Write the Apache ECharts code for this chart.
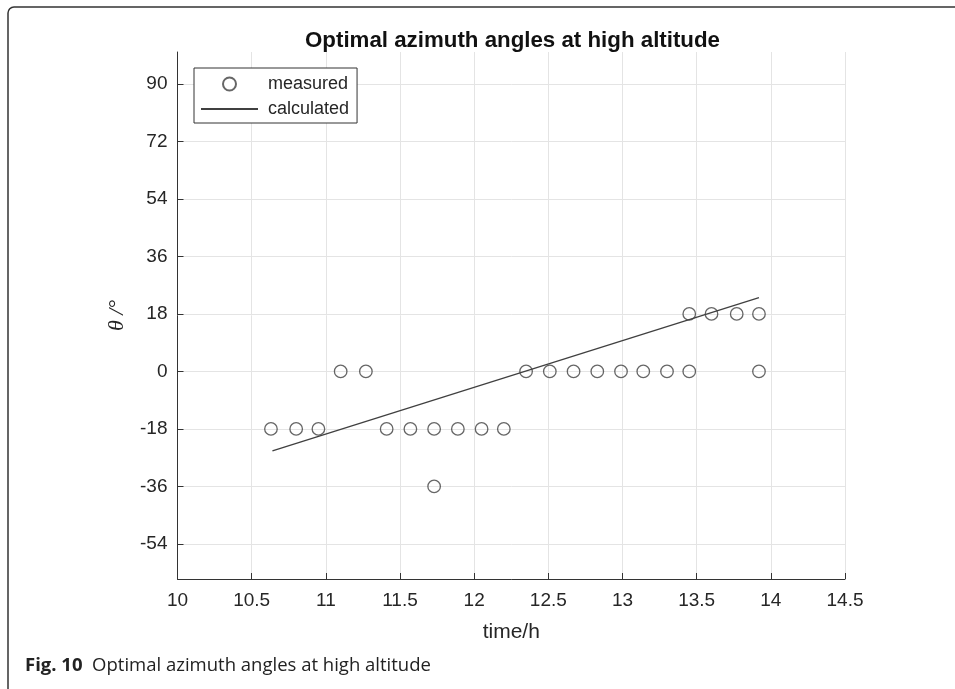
<!DOCTYPE html>
<html>
<head>
<meta charset="utf-8">
<script src="https://cdn.jsdelivr.net/npm/echarts@6/dist/echarts.min.js"></script>
<style>
html,body{margin:0;padding:0;background:#fff;}
#chart{width:955px;height:689px;}
</style>
</head>
<body>
<div id="chart"></div>
<script>
// measured optimal azimuth angles
const measuredTime = [10.63, 10.80, 10.95, 11.10, 11.27, 11.41, 11.57, 11.73, 11.73, 11.89, 12.05, 12.20,
  12.35, 12.51, 12.67, 12.83, 12.99, 13.14, 13.30, 13.45, 13.45, 13.60, 13.77, 13.92, 13.92];
const measuredAngle = [-18, -18, -18, 0, 0, -18, -18, -18, -36, -18, -18, -18,
  0, 0, 0, 0, 0, 0, 0, 0, 18, 18, 18, 18, 0];
// calculated line (end points)
const calcTime = [10.64, 13.92];
const calcAngle = [-24.9, 23.1];
// axis ticks
const yTickValues = [-54, -36, -18, 0, 18, 36, 54, 72, 90];

const chart = echarts.init(document.getElementById('chart'), null, {renderer: 'canvas'});
const axisColor = '#333';
const textColor = '#262626';
const font = 'Liberation Sans, Arial, sans-serif';

const option = {
  backgroundColor: '#fff',
  animation: false,
  title: {
    text: 'Optimal azimuth angles at high altitude',
    left: 300, top: 25,
    textStyle: {fontSize: 22.3, fontWeight: 'bold', color: '#111', fontFamily: font}
  },
  legend: {
    orient: 'vertical',
    left: 194, top: 68,
    padding: [7, 8, 5, 6],
    itemGap: 7,
    itemWidth: 57, itemHeight: 13,
    borderColor: '#333', borderWidth: 1,
    backgroundColor: '#fff',
    textStyle: {fontSize: 18, color: textColor, fontFamily: font, padding: [0, 0, 0, 5]},
    data: [
      {name: 'measured'},
      {name: 'calculated', itemStyle: {color: 'rgba(0,0,0,0)', borderColor: 'rgba(0,0,0,0)', borderWidth: 0}}
    ]
  },
  grid: {left: 177.5, right: 110, top: 52, bottom: 110, containLabel: false, outerBoundsMode: 'none'},
  xAxis: {
    type: 'value', min: 10, max: 14.5, interval: 0.5,
    name: 'time/h', nameLocation: 'middle', nameGap: 43,
    nameTextStyle: {fontSize: 21, color: textColor, fontFamily: font},
    axisLine: {show: true, onZero: false, lineStyle: {color: axisColor, width: 1}},
    axisTick: {show: true, inside: true, length: 6, lineStyle: {color: axisColor}},
    axisLabel: {fontSize: 19, color: textColor, fontFamily: font, margin: 12,
      formatter: v => String(v)},
    splitLine: {show: true, lineStyle: {color: '#e4e4e4', width: 1}}
  },
  yAxis: {
    type: 'value', min: -65, max: 100,
    name: 'θ /°', nameLocation: 'middle', nameGap: 49, nameRotate: 90,
    nameTextStyle: {fontSize: 22, color: textColor, fontFamily: 'Liberation Serif, DejaVu Serif, serif', fontStyle: 'italic'},
    axisLine: {show: true, onZero: false, lineStyle: {color: axisColor, width: 1}},
    axisTick: {show: true, inside: true, length: 6, lineStyle: {color: axisColor}, customValues: yTickValues},
    axisLabel: {fontSize: 19, color: textColor, fontFamily: font, margin: 10, customValues: yTickValues},
    splitLine: {show: true, lineStyle: {color: '#e4e4e4', width: 1}}
  },
  series: [
    {
      name: 'measured', type: 'scatter',
      data: measuredTime.map((t, i) => [t, measuredAngle[i]]),
      symbol: 'circle', symbolSize: 12.5,
      itemStyle: {color: 'rgba(255,255,255,0)', borderColor: '#404040', borderWidth: 1.3},
      z: 3
    },
    {
      name: 'calculated', type: 'line',
      data: calcTime.map((t, i) => [t, calcAngle[i]]),
      symbol: 'none', showSymbol: false,
      lineStyle: {color: '#404040', width: 1.3},
      itemStyle: {color: '#404040'},
      z: 2
    }
  ],
  graphic: [
    {
      type: 'rect', silent: true,
      shape: {x: 8, y: 7, width: 1200, height: 1200, r: [6, 0, 0, 0]},
      style: {fill: 'none', stroke: '#333', lineWidth: 1.5}
    },
    {
      type: 'text', left: 25, top: 656,
      style: {
        text: '{b|Fig. 10}  Optimal azimuth angles at high altitude',
        fontSize: 18.5, fontFamily: 'Open Sans, sans-serif', fill: '#222',
        rich: {b: {fontWeight: 'bold', fontSize: 18.5, fontFamily: 'Open Sans, sans-serif', fill: '#222'}}
      }
    }
  ]
};
chart.setOption(option);
</script>
</body>
</html>
